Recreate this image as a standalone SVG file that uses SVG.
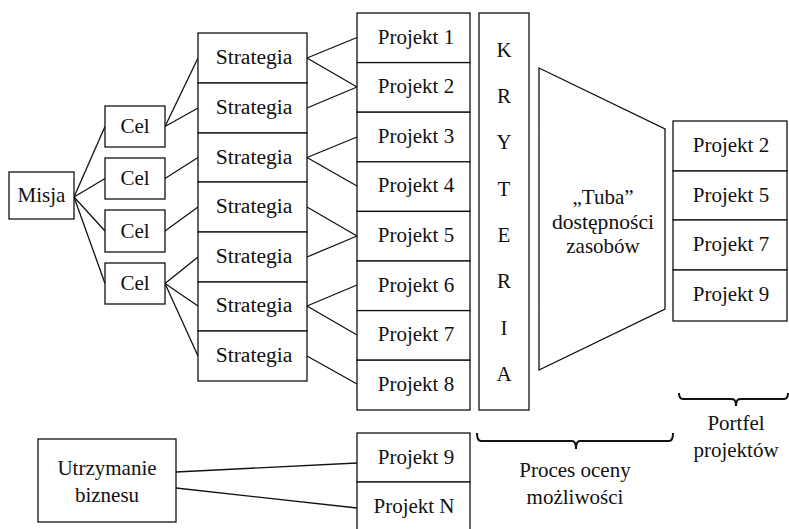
<svg xmlns="http://www.w3.org/2000/svg" width="789" height="529" viewBox="0 0 789 529">
<style>
rect,polygon{fill:#fff;stroke:#111;stroke-width:1.3}
.c line{stroke:#111;stroke-width:1.3}
text{font-family:'Liberation Serif','DejaVu Serif',serif;font-size:21px;fill:#111;text-anchor:middle}
.s{font-size:21.6px}
.br{fill:none;stroke:#111;stroke-width:2}
</style>
<rect width="789" height="529" fill="#fff" style="stroke:none"/>
<g class="c" id="connectors">
<line x1="74" y1="197" x2="105" y2="126.5"/>
<line x1="74" y1="197" x2="105" y2="178.5"/>
<line x1="74" y1="197" x2="105" y2="231"/>
<line x1="74" y1="197" x2="105" y2="283.5"/>
<line x1="165" y1="126.5" x2="198" y2="58"/>
<line x1="165" y1="126.5" x2="198" y2="108"/>
<line x1="165" y1="178.5" x2="198" y2="157.5"/>
<line x1="165" y1="231" x2="198" y2="207"/>
<line x1="165" y1="283.5" x2="198" y2="257"/>
<line x1="165" y1="283.5" x2="198" y2="306"/>
<line x1="165" y1="283.5" x2="198" y2="356"/>
<line x1="307" y1="58" x2="357" y2="37.5"/>
<line x1="307" y1="58" x2="357" y2="87"/>
<line x1="307" y1="108" x2="357" y2="87"/>
<line x1="307" y1="157.5" x2="357" y2="137"/>
<line x1="307" y1="157.5" x2="357" y2="186"/>
<line x1="307" y1="207" x2="357" y2="236"/>
<line x1="307" y1="257" x2="357" y2="236"/>
<line x1="307" y1="306" x2="357" y2="285"/>
<line x1="307" y1="306" x2="357" y2="335"/>
<line x1="307" y1="356" x2="357" y2="384"/>
<line x1="176" y1="472" x2="357" y2="463"/>
<line x1="176" y1="488" x2="357" y2="508"/>
</g>
<g id="misja"><rect x="9" y="172" width="65" height="47"/><text x="41.5" y="202">Misja</text></g>
<g id="cel1"><rect x="105" y="106" width="60" height="41"/><text x="135" y="133">Cel</text></g>
<g id="cel2"><rect x="105" y="158" width="60" height="41"/><text x="135" y="185">Cel</text></g>
<g id="cel3"><rect x="105" y="210" width="60" height="42"/><text x="135" y="237.5">Cel</text></g>
<g id="cel4"><rect x="105" y="263" width="60" height="41"/><text x="135" y="290">Cel</text></g>
<g id="strat1"><rect x="198" y="33" width="109" height="50"/><text class="s" x="254" y="64">Strategia</text></g>
<g id="strat2"><rect x="198" y="83" width="109" height="50"/><text class="s" x="254" y="114">Strategia</text></g>
<g id="strat3"><rect x="198" y="133" width="109" height="49"/><text class="s" x="254" y="163.5">Strategia</text></g>
<g id="strat4"><rect x="198" y="182" width="109" height="50"/><text class="s" x="254" y="213">Strategia</text></g>
<g id="strat5"><rect x="198" y="232" width="109" height="50"/><text class="s" x="254" y="263">Strategia</text></g>
<g id="strat6"><rect x="198" y="282" width="109" height="49"/><text class="s" x="254" y="312">Strategia</text></g>
<g id="strat7"><rect x="198" y="331" width="109" height="50"/><text class="s" x="254" y="362">Strategia</text></g>
<g id="p1"><rect x="357" y="13" width="113" height="49.6"/><text x="416" y="43.5">Projekt 1</text></g>
<g id="p2"><rect x="357" y="62.6" width="113" height="49.6"/><text x="416" y="93">Projekt 2</text></g>
<g id="p3"><rect x="357" y="112.2" width="113" height="49.6"/><text x="416" y="142.5">Projekt 3</text></g>
<g id="p4"><rect x="357" y="161.8" width="113" height="49.6"/><text x="416" y="192">Projekt 4</text></g>
<g id="p5"><rect x="357" y="211.4" width="113" height="49.6"/><text x="416" y="242">Projekt 5</text></g>
<g id="p6"><rect x="357" y="261" width="113" height="49.6"/><text x="416" y="291.5">Projekt 6</text></g>
<g id="p7"><rect x="357" y="310.6" width="113" height="49.6"/><text x="416" y="341">Projekt 7</text></g>
<g id="p8"><rect x="357" y="360.2" width="113" height="49.8"/><text x="416" y="390.5">Projekt 8</text></g>
<g id="kryteria"><rect x="479" y="13" width="50" height="397"/>
<text x="504" y="57">K</text><text x="504" y="103">R</text><text x="504" y="149">Y</text><text x="504" y="196">T</text><text x="504" y="242">E</text><text x="504" y="288">R</text><text x="504" y="335">I</text><text x="504" y="381">A</text></g>
<g id="tuba"><polygon points="539,68 665,129 665,309 539,370"/>
<text x="603" y="204">„Tuba”</text><text class="s" x="603" y="228.5">dostępności</text><text x="603" y="253">zasobów</text></g>
<g id="pp2"><rect x="673" y="121" width="114" height="50"/><text x="731" y="152">Projekt 2</text></g>
<g id="pp5"><rect x="673" y="171" width="114" height="49"/><text x="731" y="201.5">Projekt 5</text></g>
<g id="pp7"><rect x="673" y="220" width="114" height="50"/><text x="731" y="251">Projekt 7</text></g>
<g id="pp9"><rect x="673" y="270" width="114" height="51"/><text x="731" y="301">Projekt 9</text></g>
<g id="utrzymanie"><rect x="38" y="439" width="138" height="83"/><text x="107" y="475">Utrzymanie</text><text x="107" y="502">biznesu</text></g>
<g id="p9"><rect x="357" y="433" width="113" height="49"/><text x="416" y="464">Projekt 9</text></g>
<g id="pN"><rect x="357" y="482" width="113" height="50"/><text x="414" y="513">Projekt N</text></g>
<g id="proces"><path class="br" d="M477,433 Q477,441 481,441 L572,441 Q576,441 576,449 Q576,441 580,441 L669,441 Q673,441 673,433"/>
<text x="575" y="477">Proces oceny</text><text x="575" y="504">możliwości</text></g>
<g id="portfel"><path class="br" d="M679,393 Q679,399 683,399 L732,399 Q736,399 736,406 Q736,399 740,399 L784,399 Q788,399 788,393"/>
<text x="736" y="430">Portfel</text><text x="736" y="457">projektów</text></g>
</svg>
